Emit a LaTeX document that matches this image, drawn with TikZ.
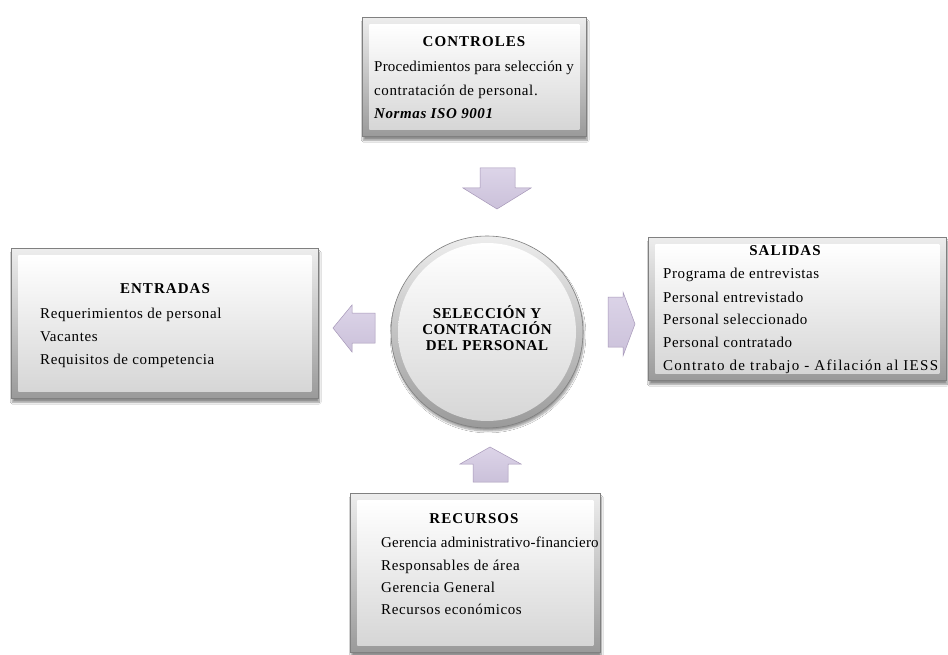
\documentclass[tikz,border=0pt]{standalone}
\usepackage{fontspec}
\setmainfont{Liberation Serif}[LetterSpace=4]
\newfontfamily\widefont{Liberation Serif}[LetterSpace=8.5]
\newfontfamily\tightfont{Liberation Serif}[LetterSpace=1.5]
\newfontfamily\titlefont{Liberation Serif}[LetterSpace=7]
\usetikzlibrary{shadows.blur,shapes.geometric}
\definecolor{bevdark}{HTML}{9A9A9A}
\definecolor{bevlight}{HTML}{EDEDED}
\definecolor{inbot}{HTML}{D6D6D6}
\definecolor{edgec}{HTML}{808080}
\definecolor{arrfill}{HTML}{CBC1DA}
\definecolor{arrtop}{HTML}{DCD4E8}
\definecolor{arredge}{HTML}{A697B8}
\tikzset{
  bevout/.style={rectangle, draw=edgec, line width=0.6pt, top color=bevlight, bottom color=bevdark,
    blur shadow={shadow xshift=1pt, shadow yshift=-4pt, shadow blur steps=8, shadow opacity=45}, inner sep=0pt},
  bevin/.style={rectangle, draw=none, top color=white, bottom color=inbot, inner sep=0pt},
  title/.style={font=\fontsize{15}{17}\selectfont\titlefont\bfseries, anchor=base},
  body/.style={font=\fontsize{15}{17}\selectfont, anchor=base west, inner sep=0pt},
  blockarr/.style={draw=arredge, line width=0.5pt, top color=arrtop, bottom color=arrfill},
  ctext/.style={font=\fontsize{15}{16}\selectfont\bfseries, align=center, inner sep=0pt}
}
\begin{document}
\begin{tikzpicture}[x=1pt,y=-1pt]
\useasboundingbox[fill=white] (0,0) rectangle (948,655);

% CONTROLES
\node[bevout, minimum width=224pt, minimum height=119pt, anchor=north west] (ctrl) at (362,17) {};
\node[bevin, minimum width=210pt, minimum height=105pt] (ctrlin) at (ctrl.center) {};
\node[title] (ctrlt) at (474,47) {CONTROLES};
\node[body, font=\fontsize{15}{17}\selectfont\tightfont] (ctrl1) at (374,72) {Procedimientos para selección y};
\node[body] (ctrl2) at (374,96) {contratación de personal.};
\node[body, font=\fontsize{15}{17}\selectfont\bfseries\itshape] (ctrl3) at (374,119) {Normas ISO 9001};

% ENTRADAS
\node[bevout, minimum width=307pt, minimum height=150pt, anchor=north west] (entr) at (11,248) {};
\node[bevin, minimum width=293pt, minimum height=136pt] (entrin) at (entr.center) {};
\node[title] (entrt) at (165,294) {ENTRADAS};
\node[body] (entr1) at (40,318) {Requerimientos de personal};
\node[body] (entr2) at (40,341) {Vacantes};
\node[body] (entr3) at (40,364) {Requisitos de competencia};

% SALIDAS
\node[bevout, minimum width=298pt, minimum height=143pt, anchor=north west] (sal) at (648,237) {};
\node[bevin, minimum width=284pt, minimum height=129pt] (salin) at (sal.center) {};
\node[title] (salt) at (785,255) {SALIDAS};
\node[body] (sal1) at (663,279) {Programa de entrevistas};
\node[body] (sal2) at (663,302) {Personal entrevistado};
\node[body] (sal3) at (663,324) {Personal seleccionado};
\node[body] (sal4) at (663,347) {Personal contratado};
\node[body, font=\fontsize{15}{17}\selectfont\widefont] (sal5) at (663,370) {Contrato de trabajo - Afilación al IESS};

% RECURSOS
\node[bevout, minimum width=250pt, minimum height=159pt, anchor=north west] (rec) at (350,493) {};
\node[bevin, minimum width=236pt, minimum height=145pt] (recin) at (rec.center) {};
\node[title] (rect) at (474,523) {RECURSOS};
\node[body, font=\fontsize{15}{17}\selectfont\tightfont] (rec1) at (381,547) {Gerencia administrativo-financiero};
\node[body] (rec2) at (381,570) {Responsables de área};
\node[body] (rec3) at (381,592) {Gerencia General};
\node[body] (rec4) at (381,614) {Recursos económicos};

% Central circle
\node[circle, draw=edgec, line width=0.6pt, minimum size=192pt, inner sep=0pt,
  top color=bevlight, bottom color=bevdark,
  blur shadow={shadow xshift=1pt, shadow yshift=-3pt, shadow blur steps=8, shadow opacity=40}] (proc) at (487,332) {};
\node[circle, minimum size=178pt, inner sep=0pt, top color=white, bottom color=inbot] (procin) at (proc.center) {};
\node[ctext] (proct) at (487,328) {SELECCIÓN Y\\CONTRATACIÓN\\DEL PERSONAL};

% Block arrows
\path[blockarr] (480,168) -- (515,168) -- (515,188) -- (531,188) -- (497,209) -- (463,188) -- (480,188) -- cycle;
\path[blockarr] (473,482) -- (508,482) -- (508,464) -- (521,464) -- (490,447) -- (460,464) -- (473,464) -- cycle;
\path[blockarr] (375,313) -- (375,343) -- (352,343) -- (352,352) -- (333,328) -- (352,305) -- (352,313) -- cycle;
\path[blockarr] (608,297) -- (623,297) -- (623,292) -- (635,324) -- (623,356) -- (623,347) -- (608,347) -- cycle;
\end{tikzpicture}
\end{document}
